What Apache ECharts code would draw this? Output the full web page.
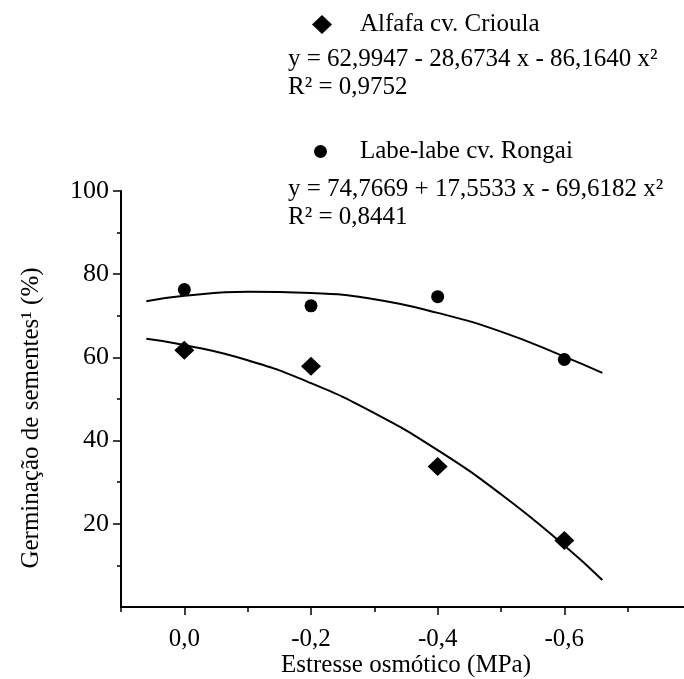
<!DOCTYPE html>
<html>
<head>
<meta charset="utf-8">
<script src="https://cdn.jsdelivr.net/npm/echarts@6/dist/echarts.min.js"></script>
<style>
html,body{margin:0;padding:0;background:#fff;}
#chart{width:684px;height:679px;}
</style>
</head>
<body>
<div id="chart"></div>
<script>
// ---- data ----
const stressLevels = [0, -0.2, -0.4, -0.6];
const alfafaValues = [61.7, 57.9, 33.8, 16.0];
const labeValues = [76.3, 72.4, 74.6, 59.5];

const fitX = [0.06, 0, -0.1, -0.2, -0.3, -0.4, -0.5, -0.6, -0.66];
const alfafaFit = [64.5, 63.0, 59.3, 53.8, 46.6, 37.7, 27.1, 14.8, 6.5];
const labeFit = [73.5, 74.8, 75.8, 75.5, 74.0, 70.7, 66.2, 60.2, 56.3];

const xMajorTicks = [0, -0.2, -0.4, -0.6, -0.8];
const xLabelTicks = [0, -0.2, -0.4, -0.6];
const xMinorTicks = [0.1, -0.1, -0.3, -0.5, -0.7];
const yMajorTicks = [20, 40, 60, 80, 100];
const yMinorTicks = [10, 30, 50, 70, 90];

const seriesNames = ['Alfafa cv. Crioula', 'Labe-labe cv. Rongai'];
const equations = ['y = 62,9947 - 28,6734 x - 86,1640 x²', 'y = 74,7669 + 17,5533 x - 69,6182 x²'];
const r2Texts = ['R² = 0,9752', 'R² = 0,8441'];
const xTitle = 'Estresse osmótico (MPa)';
const yTitle = 'Germinação de sementes¹ (%)';

const FONT = '"Liberation Serif", "Times New Roman", serif';
const FS = 25;
const BLACK = '#000';

function pairs(xs, ys) { return xs.map((x, i) => [x, ys[i]]); }
function fmtX(v) { return (Math.round(v * 10) / 10).toFixed(1).replace('.', ','); }

const chart = echarts.init(document.getElementById('chart'), null, {renderer: 'canvas'});

const grid = {left: 121, right: -7, top: 191, bottom: 72, outerBoundsMode: 'none', containLabel: false};

const option = {
  backgroundColor: '#fff',
  animation: false,
  grid: grid,
  xAxis: [
    {
      type: 'value', min: -0.8, max: 0.1, interval: 0.2, inverse: true,
      axisLine: {show: true, onZero: false, lineStyle: {color: BLACK, width: 2}},
      axisTick: {show: true, inside: false, length: 8, customValues: xMajorTicks, lineStyle: {color: BLACK, width: 1.5}},
      axisLabel: {show: true, customValues: xLabelTicks, margin: 20, color: BLACK, fontFamily: FONT, fontSize: FS,
                  formatter: v => fmtX(v)},
      splitLine: {show: false},
      name: xTitle, nameLocation: 'middle', nameGap: 46, nameMoveOverlap: false,
      nameTextStyle: {color: BLACK, fontFamily: FONT, fontSize: FS}
    },
    {
      type: 'value', min: -0.8, max: 0.1, interval: 0.1, inverse: true, position: 'bottom',
      axisLine: {show: false, onZero: false},
      axisTick: {show: true, inside: false, length: 5, customValues: xMinorTicks, lineStyle: {color: BLACK, width: 1.5}},
      axisLabel: {show: false},
      splitLine: {show: false}
    }
  ],
  yAxis: [
    {
      type: 'value', min: 0, max: 100, interval: 20,
      axisLine: {show: true, onZero: false, lineStyle: {color: BLACK, width: 2}},
      axisTick: {show: true, inside: false, length: 8, customValues: yMajorTicks, lineStyle: {color: BLACK, width: 1.5}},
      axisLabel: {show: true, customValues: yMajorTicks, margin: 12, color: BLACK, fontFamily: FONT, fontSize: 26},
      splitLine: {show: false}
    },
    {
      type: 'value', min: 0, max: 100, interval: 10, position: 'left',
      axisLine: {show: false, onZero: false},
      axisTick: {show: true, inside: false, length: 4, customValues: yMinorTicks, lineStyle: {color: BLACK, width: 1.5}},
      axisLabel: {show: false},
      splitLine: {show: false}
    }
  ],
  legend: [
    {
      data: [seriesNames[0]], left: 312, top: 12, orient: 'vertical', padding: 0,
      icon: 'diamond', itemWidth: 20, itemHeight: 19,
      textStyle: {color: BLACK, fontFamily: FONT, fontSize: FS, lineHeight: 25, padding: [0, 0, 0, 23]},
      selectedMode: false
    },
    {
      data: [seriesNames[1]], left: 314, top: 139, orient: 'vertical', padding: 0,
      icon: 'circle', itemWidth: 13, itemHeight: 13,
      textStyle: {color: BLACK, fontFamily: FONT, fontSize: FS, lineHeight: 25, padding: [0, 0, 0, 28]},
      selectedMode: false
    }
  ],
  graphic: [
    {type: 'text', x: 288, y: 59, style: {text: equations[0], fill: BLACK, font: FS + 'px ' + FONT, verticalAlign: 'middle'}},
    {type: 'text', x: 288, y: 87, style: {text: r2Texts[0], fill: BLACK, font: FS + 'px ' + FONT, verticalAlign: 'middle'}},
    {type: 'text', x: 288, y: 189, style: {text: equations[1], fill: BLACK, font: FS + 'px ' + FONT, verticalAlign: 'middle'}},
    {type: 'text', x: 288, y: 217, style: {text: r2Texts[1], fill: BLACK, font: FS + 'px ' + FONT, verticalAlign: 'middle'}},
    {type: 'text', x: 31, y: 418, rotation: Math.PI / 2,
     style: {text: yTitle, fill: BLACK, font: FS + 'px ' + FONT, align: 'center', verticalAlign: 'middle'}}
  ],
  series: [
    {
      name: 'fitAlfafa', type: 'line', data: pairs(fitX, alfafaFit), smooth: true, showSymbol: false, symbol: 'none',
      lineStyle: {color: BLACK, width: 2, opacity: 1}, z: 2, silent: true
    },
    {
      name: 'fitLabe', type: 'line', data: pairs(fitX, labeFit), smooth: true, showSymbol: false, symbol: 'none',
      lineStyle: {color: BLACK, width: 2, opacity: 1}, z: 2, silent: true
    },
    {
      name: seriesNames[0], type: 'scatter', data: pairs(stressLevels, alfafaValues),
      symbol: 'diamond', symbolSize: [20, 19], itemStyle: {color: BLACK, opacity: 1}, z: 3
    },
    {
      name: seriesNames[1], type: 'scatter', data: pairs(stressLevels, labeValues),
      symbol: 'circle', symbolSize: 13, itemStyle: {color: BLACK, opacity: 1}, z: 3
    }
  ]
};
chart.setOption(option);
</script>
</body>
</html>
